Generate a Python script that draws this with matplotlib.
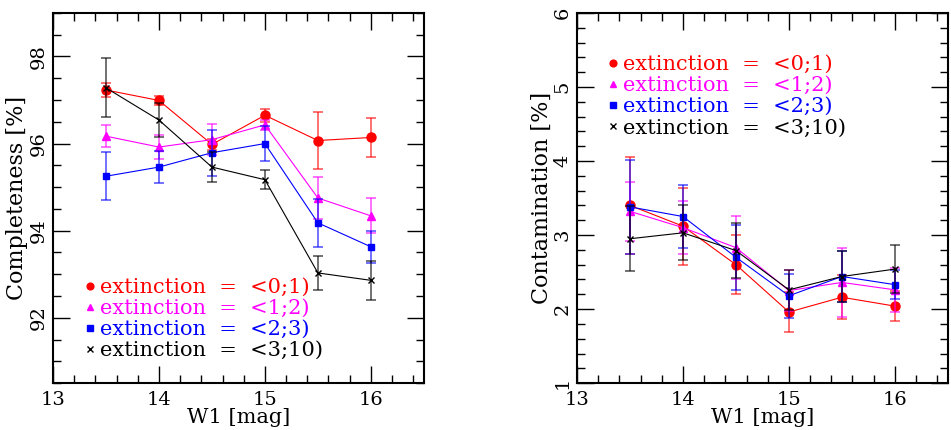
import matplotlib
matplotlib.use('Agg')
import matplotlib.pyplot as plt
from matplotlib.lines import Line2D
from matplotlib.ticker import MultipleLocator

plt.rcParams['font.family'] = 'DejaVu Serif'

w1 = [13.5, 14.0, 14.5, 15.0, 15.5, 16.0]
labels = ['extinction  =  <0;1)', 'extinction  =  <1;2)',
          'extinction  =  <2;3)', 'extinction  =  <3;10)']
colors = ['#ff0000', '#ff00ff', '#0000ff', 'black']
markers = ['o', '^', 's', 'x']
msizes = [6.5, 6, 5, 5]

# completeness [%]
comp = [
    [97.23, 96.99, 95.98, 96.65, 96.07, 96.14],
    [96.17, 95.92, 96.09, 96.43, 94.75, 94.34],
    [95.25, 95.46, 95.79, 96.00, 94.18, 93.63],
    [97.28, 96.54, 95.46, 95.17, 93.03, 92.86],
]
comp_err = [
    [0.17, 0.10, 0.12, 0.15, 0.66, 0.45],
    [0.25, 0.28, 0.35, 0.12, 0.48, 0.40],
    [0.55, 0.36, 0.53, 0.41, 0.55, 0.37],
    [0.68, 0.40, 0.35, 0.22, 0.40, 0.44],
]

# contamination [%]
cont = [
    [3.40, 3.12, 2.60, 1.96, 2.16, 2.04],
    [3.32, 3.10, 2.83, 2.25, 2.36, 2.26],
    [3.38, 3.25, 2.70, 2.18, 2.44, 2.33],
    [2.95, 3.03, 2.79, 2.26, 2.44, 2.54],
]
cont_err = [
    [0.65, 0.52, 0.40, 0.27, 0.30, 0.20],
    [0.40, 0.36, 0.43, 0.28, 0.47, 0.30],
    [0.63, 0.43, 0.44, 0.30, 0.35, 0.20],
    [0.44, 0.37, 0.37, 0.27, 0.34, 0.32],
]

fig = plt.figure(figsize=(9.51, 4.30), dpi=100)
ax1 = fig.add_axes([0.0557, 0.109, 0.390, 0.861])
ax2 = fig.add_axes([0.6067, 0.109, 0.390, 0.861])


def draw(ax, vals, errs):
    for i in range(4):
        ax.errorbar(w1, vals[i], yerr=errs[i], fmt='none', ecolor=colors[i],
                    elinewidth=1.3, capsize=3.6, capthick=1.3, alpha=0.6)
        ax.plot(w1, vals[i], color=colors[i], lw=0.8, marker=markers[i],
                ms=msizes[i], mew=1.0)


def style(ax, ymin, ymax, ymaj, ymin_step, ylabel):
    ax.set_xlim(13, 16.5)
    ax.set_ylim(ymin, ymax)
    ax.xaxis.set_major_locator(MultipleLocator(1))
    ax.xaxis.set_minor_locator(MultipleLocator(0.2))
    ax.yaxis.set_major_locator(MultipleLocator(ymaj))
    ax.yaxis.set_minor_locator(MultipleLocator(ymin_step))
    ax.tick_params(which='both', direction='in', top=True, right=True,
                   width=1.0)
    ax.tick_params(which='major', length=12, labelsize=14)
    ax.tick_params(which='minor', length=6)
    ax.tick_params(axis='y', labelrotation=90, pad=4)
    ax.tick_params(axis='x', pad=6)
    for lab in ax.get_yticklabels():
        lab.set_verticalalignment('center')
    for s in ax.spines.values():
        s.set_linewidth(1.5)
    ax.set_xlabel('W1 [mag]', fontsize=15, labelpad=-1)
    ax.set_ylabel(ylabel, fontsize=16)
    ax.yaxis.set_label_coords(-0.066, 0.5)


def legend(ax, anchor):
    handles = [Line2D([], [], ls='none', marker=markers[i], color=colors[i],
                      ms=msizes[i] * 0.75) for i in range(4)]
    ax.legend(handles, labels, loc='upper left', bbox_to_anchor=anchor,
              frameon=False, fontsize=15, handlelength=0.55,
              handletextpad=0.2, labelspacing=0.1, borderpad=0,
              borderaxespad=0, labelcolor=colors)


draw(ax1, comp, comp_err)
style(ax1, 90.5, 99.0, 2, 0.5, 'Completeness [%]')
legend(ax1, (0.084, 0.284))

draw(ax2, cont, cont_err)
style(ax2, 1, 6, 1, 0.2, 'Contamination [%]')
legend(ax2, (0.081, 0.886))

fig.savefig('out.png', dpi=100)
